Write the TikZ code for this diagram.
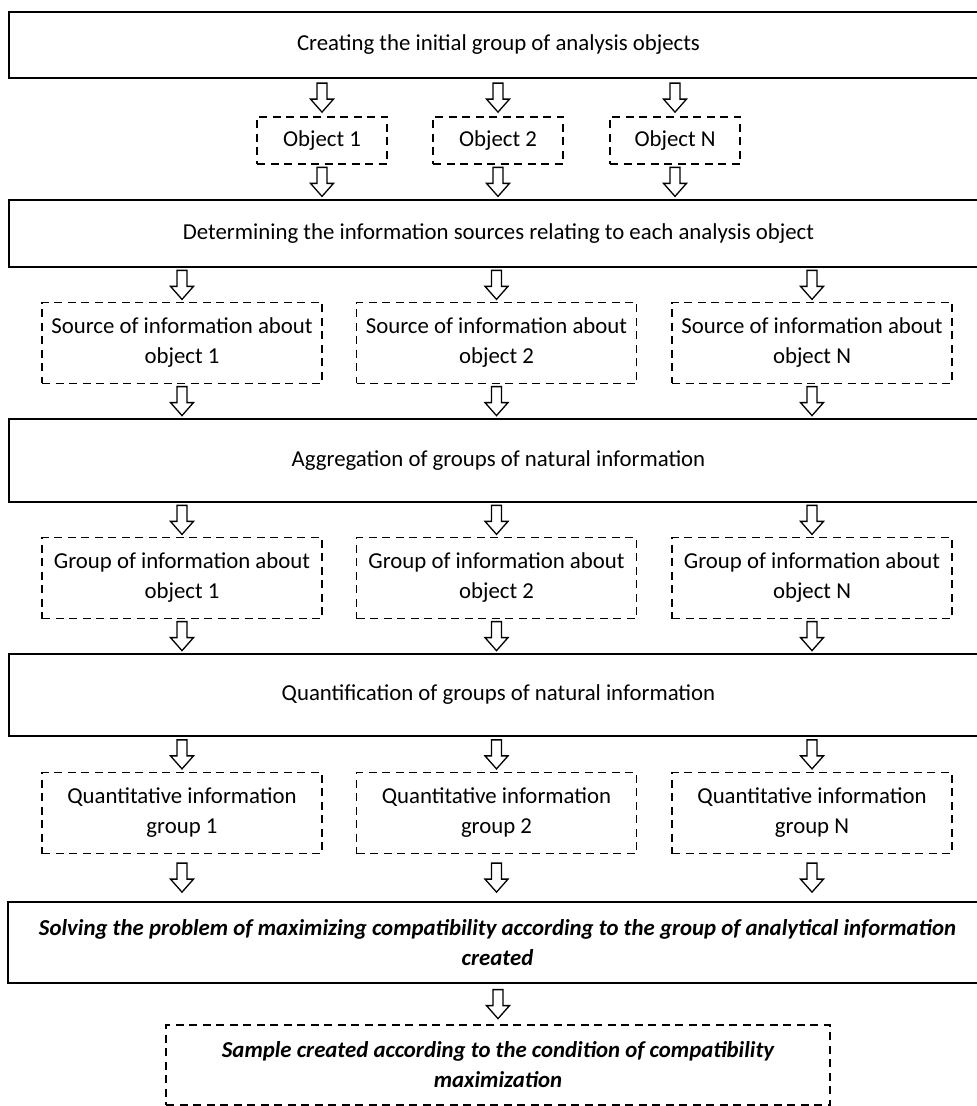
\documentclass[tikz,border=0pt]{standalone}
\usepackage{fontspec}
\setmainfont{Carlito}
\usetikzlibrary{calc}

\begin{document}
\begin{tikzpicture}[
    x=0.5pt, y=-0.5pt,
    txt/.style={font=\fontsize{11.4pt}{15pt}\selectfont},
    wide/.style={rectangle, draw=black, line width=1pt, minimum width=489.5pt, inner sep=0pt, align=center, txt},
    dbox/.style={rectangle, draw=black, line width=0.75pt, dash pattern=on 4pt off 2.75pt, minimum width=140pt, minimum height=40.5pt, inner sep=0pt, align=center, txt},
    small/.style={dbox, minimum width=65pt, minimum height=23.5pt},
    hollow/.style={draw=black, fill=white, line width=0.65pt, line join=miter,
        to path={let \p1=(\tikztostart), \p2=(\tikztotarget), \p3=($(\p1)!0.5!(\p2)$) in
            (\x1-2.5pt,\y3+7.25pt) -- (\x1-2.5pt,\y3-0.75pt) -- (\x1-5.75pt,\y3-0.75pt) -- (\x1,\y3-7.25pt)
            -- (\x1+5.75pt,\y3-0.75pt) -- (\x1+2.5pt,\y3-0.75pt) -- (\x1+2.5pt,\y3+7.25pt) -- cycle}}
]
    \useasboundingbox (0,0) rectangle (976,1106);

    % step 1
    \node [wide, minimum height=33pt] (init) at (498.5,45) {Creating the initial group of analysis objects};
    \node [small] (obj1) at (322,140.5) {Object 1};
    \node [small] (obj2) at (498,140.5) {Object 2};
    \node [small] (objN) at (675,140.5) {Object N};

    % step 2
    \node [wide, minimum height=33.5pt] (sources) at (498.5,233.5) {Determining the information sources relating to each analysis object};
    \node [dbox] (src1) at (182,343) {Source of information about\\object 1};
    \node [dbox] (src2) at (496.5,343) {Source of information about\\object 2};
    \node [dbox] (srcN) at (812,343) {Source of information about\\object N};

    % step 3
    \node [wide, minimum height=41.5pt] (aggr) at (498.5,460.5) {Aggregation of groups of natural information};
    \node [dbox] (grp1) at (182,578) {Group of information about\\object 1};
    \node [dbox] (grp2) at (496.5,578) {Group of information about\\object 2};
    \node [dbox] (grpN) at (812,578) {Group of information about\\object N};

    % step 4
    \node [wide, minimum height=41pt] (quant) at (498.5,695) {Quantification of groups of natural information};
    \node [dbox] (qnt1) at (182,813) {Quantitative information\\group 1};
    \node [dbox] (qnt2) at (496.5,813) {Quantitative information\\group 2};
    \node [dbox] (qntN) at (812,813) {Quantitative information\\group N};

    % step 5
    \node [wide, minimum height=40.5pt, font=\fontsize{11.4pt}{15pt}\selectfont\bfseries\itshape] (solve) at (497.5,942.5)
        {Solving the problem of maximizing compatibility according to the group of analytical information\\created};
    \node [dbox, minimum width=332pt, minimum height=40pt, font=\fontsize{11.4pt}{15pt}\selectfont\bfseries\itshape] (sample) at (498,1065)
        {Sample created according to the condition of compatibility\\maximization};

    % arrows
    \draw [hollow] (init.south -| obj1) to (obj1.north);
    \draw [hollow] (init.south -| obj2) to (obj2.north);
    \draw [hollow] (init.south -| objN) to (objN.north);
    \draw [hollow] (obj1.south) to (obj1.south |- sources.north);
    \draw [hollow] (obj2.south) to (obj2.south |- sources.north);
    \draw [hollow] (objN.south) to (objN.south |- sources.north);

    \draw [hollow] (sources.south -| src1) to (src1.north);
    \draw [hollow] (sources.south -| src2) to (src2.north);
    \draw [hollow] (sources.south -| srcN) to (srcN.north);
    \draw [hollow] (src1.south) to (src1.south |- aggr.north);
    \draw [hollow] (src2.south) to (src2.south |- aggr.north);
    \draw [hollow] (srcN.south) to (srcN.south |- aggr.north);

    \draw [hollow] (aggr.south -| grp1) to (grp1.north);
    \draw [hollow] (aggr.south -| grp2) to (grp2.north);
    \draw [hollow] (aggr.south -| grpN) to (grpN.north);
    \draw [hollow] (grp1.south) to (grp1.south |- quant.north);
    \draw [hollow] (grp2.south) to (grp2.south |- quant.north);
    \draw [hollow] (grpN.south) to (grpN.south |- quant.north);

    \draw [hollow] (quant.south -| qnt1) to (qnt1.north);
    \draw [hollow] (quant.south -| qnt2) to (qnt2.north);
    \draw [hollow] (quant.south -| qntN) to (qntN.north);
    \draw [hollow] (qnt1.south) to (qnt1.south |- solve.north);
    \draw [hollow] (qnt2.south) to (qnt2.south |- solve.north);
    \draw [hollow] (qntN.south) to (qntN.south |- solve.north);

    \draw [hollow] (solve.south -| sample) to (sample.north);
\end{tikzpicture}
\end{document}
